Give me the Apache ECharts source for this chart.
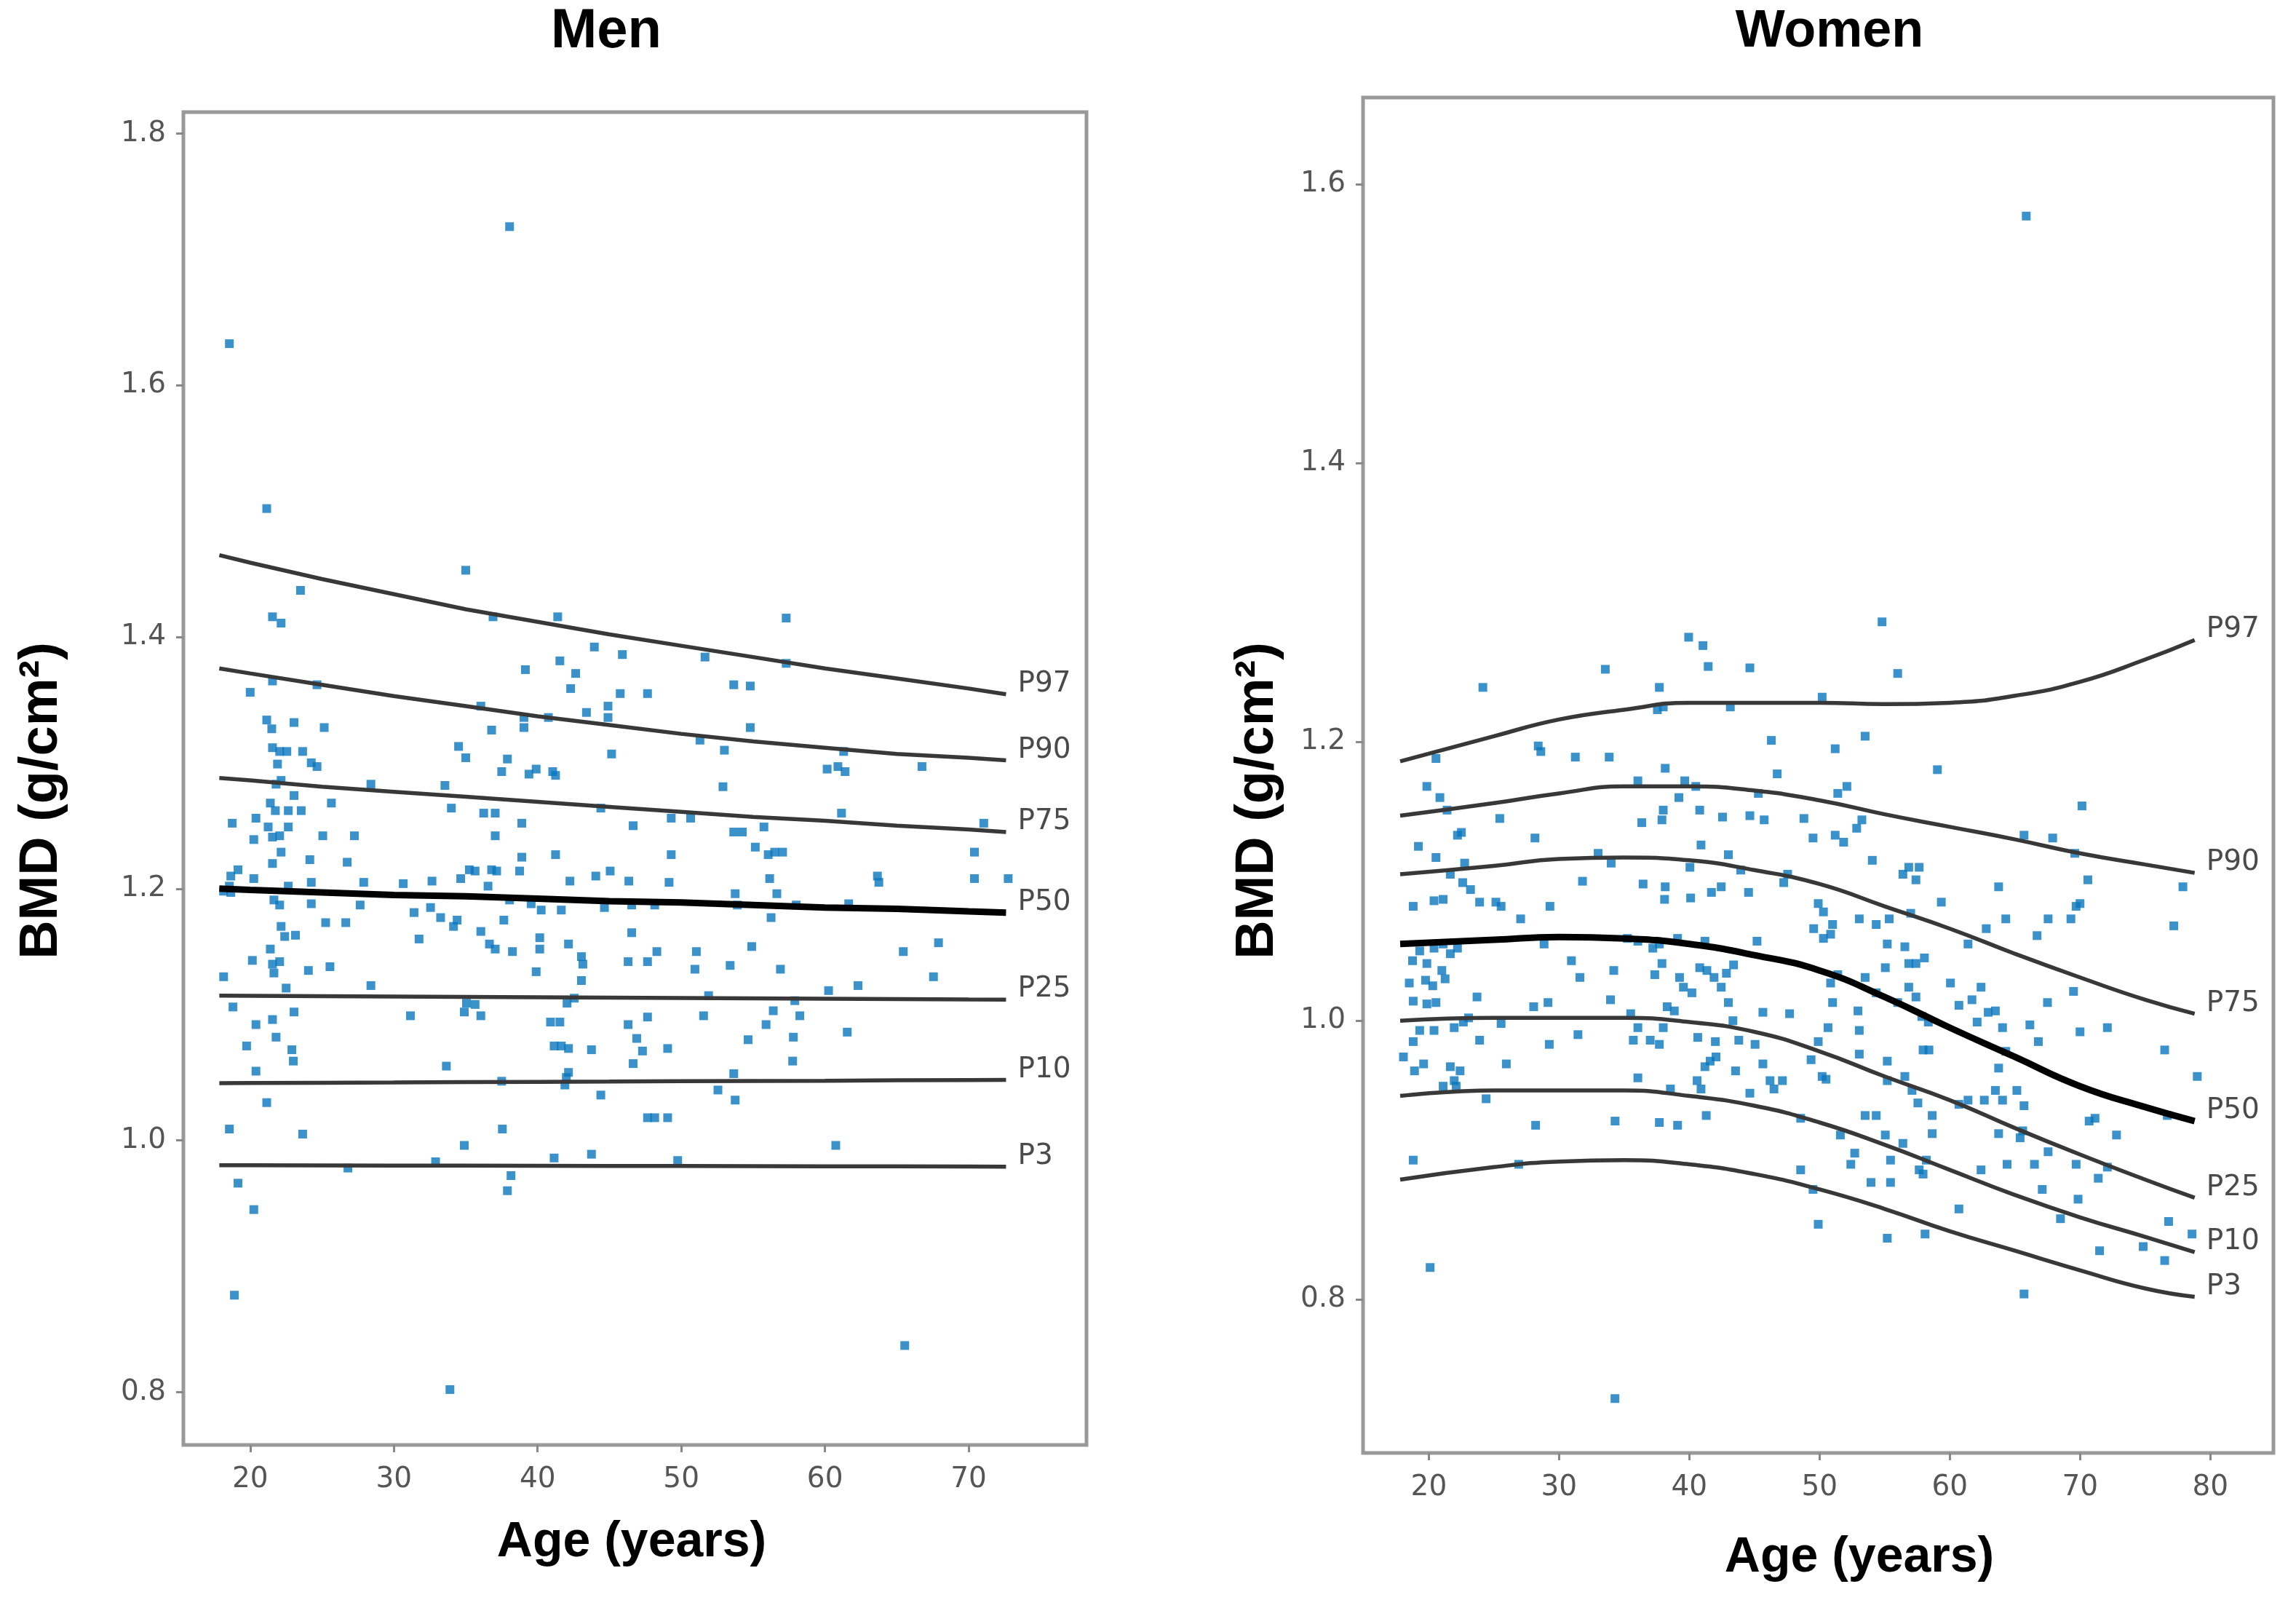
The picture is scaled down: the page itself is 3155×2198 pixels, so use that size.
<!DOCTYPE html>
<html>
<head>
<meta charset="utf-8">
<script src="https://cdn.jsdelivr.net/npm/echarts@6/dist/echarts.min.js"></script>
<style>html,body{margin:0;padding:0;background:#fff}#c{width:3155px;height:2198px}</style>
</head>
<body>
<div id="c"></div>
<script>
// ---------------- DATA ----------------
const panelTitles = ['Men', 'Women'];
const xTitle = 'Age (years)';
const yTitle = 'BMD (g/cm\u00b2)';
const percentileNames = ['P97', 'P90', 'P75', 'P50', 'P25', 'P10', 'P3'];

const menXTicks = [20, 30, 40, 50, 60, 70];
const menYTicks = [0.8, 1.0, 1.2, 1.4, 1.6, 1.8];
const womenXTicks = [20, 30, 40, 50, 60, 70, 80];
const womenYTicks = [0.8, 1.0, 1.2, 1.4, 1.6];

const menPoints = [
[18.55,1.633],[38.05,1.726],[21.15,1.502],[35.0,1.453],[33.9,0.802],[65.55,0.837],[18.9,0.877],[19.15,0.966],[20.25,0.945],[18.55,1.009],
[23.65,1.005],[21.15,1.030],[60.75,0.996],[34.9,0.996],[37.55,1.009],[37.5,1.047],[32.9,0.983],[26.8,0.978],[37.9,0.960],[38.15,0.972],
[41.15,0.986],[43.75,0.989],[49.75,0.984],[47.65,1.018],[48.15,1.018],[49.05,1.018],[44.4,1.036],[52.55,1.040],[53.75,1.032],[53.65,1.053],
[41.9,1.044],[42.15,1.054],[33.65,1.059],
[21.55,1.416],[22.15,1.411],[23.5,1.437],[20.0,1.356],[21.55,1.365],[24.65,1.362],[36.9,1.416],[41.4,1.416],[57.3,1.415],[57.3,1.379],
[39.15,1.374],[41.55,1.381],[43.95,1.392],[45.9,1.386],[51.65,1.384],[53.65,1.362],[54.8,1.361],[42.65,1.371],[42.3,1.359],[36.05,1.345],
[45.75,1.355],[47.65,1.355],[44.9,1.345],[43.4,1.340],[44.9,1.336],[40.75,1.336],[39.05,1.336],[39.05,1.328],[21.15,1.334],[21.5,1.327],
[23.05,1.332],[25.15,1.328],[36.8,1.326],[54.8,1.328],[34.5,1.313],[35.0,1.304],[51.3,1.318],[53.0,1.310],[45.15,1.307],[21.55,1.312],
[22.05,1.309],[22.55,1.309],[23.65,1.309],[21.9,1.299],[24.25,1.300],[24.65,1.297],[37.9,1.303],[37.5,1.293],[39.4,1.291],[39.9,1.295],
[41.05,1.293],[41.25,1.290],[60.15,1.295],[60.9,1.297],[61.4,1.293],[61.3,1.309],[66.75,1.297],[52.9,1.281],[33.55,1.282],[28.4,1.283],
[21.8,1.283],[22.15,1.286],[23.05,1.274],[21.4,1.268],[21.75,1.262],[22.65,1.262],[23.55,1.262],[25.65,1.268],[34.0,1.264],[36.25,1.260],
[37.05,1.260],[44.4,1.264],[61.15,1.260],[18.75,1.252],[20.4,1.256],[49.3,1.256],[50.65,1.256],[71.05,1.252],[46.65,1.250],[55.75,1.249],
[38.9,1.252],[21.25,1.249],[22.65,1.249],[21.55,1.241],[22.05,1.242],[20.25,1.239],[25.05,1.242],[27.25,1.242],[37.05,1.242],[53.65,1.245],
[54.25,1.245],[55.15,1.233],[22.15,1.229],[49.3,1.227],[56.05,1.227],[56.5,1.229],[57.05,1.229],[70.4,1.229],[41.25,1.227],[38.9,1.225],
[21.55,1.220],[24.15,1.223],[26.75,1.221],[19.15,1.215],[36.8,1.215],[35.25,1.215],[35.65,1.214],[37.15,1.214],[38.75,1.214],[45.05,1.214],
[63.65,1.210],[18.65,1.210],[20.25,1.208],[34.65,1.208],[56.15,1.208],[63.75,1.205],[70.4,1.208],[72.75,1.208],[42.25,1.206],[44.05,1.210],
[46.35,1.206],[49.15,1.205],[18.55,1.202],[22.65,1.202],[24.25,1.205],[27.9,1.205],[30.65,1.204],[32.65,1.206],[36.55,1.202],[18.15,1.198],
[18.65,1.197],[53.75,1.196],[56.65,1.196],[21.65,1.191],[22.05,1.187],[24.25,1.188],[27.65,1.187],[32.55,1.185],[38.05,1.191],[39.55,1.188],
[40.25,1.183],[41.65,1.183],[44.65,1.185],[46.55,1.187],[48.15,1.187],[53.9,1.187],[58.0,1.187],[61.65,1.188],[31.4,1.181],[33.25,1.177],
[56.25,1.177],[37.65,1.175],[34.4,1.175],[34.15,1.170],[22.15,1.170],[25.25,1.173],[26.65,1.173],[31.75,1.160],[23.15,1.163],[22.4,1.162],
[36.05,1.166],[40.15,1.161],[46.55,1.165],[67.9,1.157],[36.65,1.156],[37.05,1.152],[38.25,1.150],[40.15,1.152],[42.15,1.156],[54.9,1.154],
[21.4,1.152],[48.3,1.150],[51.05,1.150],[65.45,1.150],[43.05,1.146],[21.55,1.140],[22.05,1.142],[20.15,1.143],[43.15,1.140],[46.3,1.142],
[47.65,1.142],[53.4,1.139],[21.65,1.133],[24.05,1.135],[25.55,1.138],[39.9,1.134],[50.95,1.136],[56.9,1.136],[43.05,1.127],[67.55,1.130],
[18.15,1.130],[22.5,1.121],[28.4,1.123],[60.25,1.119],[62.3,1.123],[42.55,1.113],[42.05,1.109],[51.9,1.115],[18.8,1.106],[35.05,1.109],
[35.65,1.108],[57.9,1.111],[23.05,1.102],[31.15,1.099],[34.9,1.102],[36.05,1.099],[51.55,1.099],[56.4,1.103],[58.25,1.099],[20.4,1.092],
[21.55,1.096],[47.65,1.098],[40.9,1.094],[41.55,1.094],[46.3,1.092],[55.9,1.092],[61.55,1.086],[21.8,1.082],[46.9,1.081],[54.65,1.080],
[57.8,1.082],[41.15,1.075],[41.65,1.075],[42.15,1.073],[19.75,1.075],[22.9,1.072],[43.75,1.072],[47.3,1.071],[49.05,1.073],[23.0,1.063],
[46.65,1.061],[57.75,1.063],[20.4,1.055],[42.0,1.050]
];

const womenPoints = [
[65.87,1.577],[34.29,0.729],[20.1,0.823],[65.7,0.804],[18.8,0.900],
[39.95,1.275],[41.05,1.269],[41.45,1.254],[24.15,1.239],[33.55,1.252],[37.7,1.239],[38.0,1.225],[37.55,1.223],[43.15,1.225],[44.65,1.253],
[54.8,1.286],[56.0,1.249],[53.5,1.204],[46.3,1.201],[50.2,1.232],[51.2,1.195],[59.05,1.180],[28.4,1.197],[28.6,1.193],[31.25,1.189],
[33.85,1.189],[20.55,1.188],[19.85,1.168],[20.85,1.160],[21.4,1.151],[36.05,1.172],[38.15,1.181],[39.65,1.172],[40.5,1.168],[39.2,1.160],
[40.8,1.151],[25.45,1.145],[36.35,1.142],[38.0,1.151],[37.9,1.144],[42.55,1.146],[44.65,1.147],[45.3,1.163],[45.75,1.144],[46.75,1.177],
[48.8,1.145],[51.4,1.163],[52.1,1.168],[49.5,1.131],[51.2,1.133],[51.85,1.128],[52.85,1.138],[53.25,1.144],[70.15,1.154],[65.7,1.133],
[67.9,1.131],[69.6,1.120],[28.15,1.131],[22.2,1.133],[22.5,1.135],[19.2,1.125],[20.55,1.117],[40.9,1.126],[43.0,1.119],[33.0,1.120],
[34.0,1.113],[54.05,1.115],[56.4,1.105],[56.85,1.110],[57.65,1.110],[57.4,1.101],[70.6,1.101],[22.75,1.113],[21.65,1.105],[22.6,1.099],
[31.8,1.100],[36.45,1.098],[40.05,1.110],[40.1,1.088],[38.15,1.096],[38.1,1.087],[41.7,1.092],[42.45,1.096],[43.95,1.108],[44.55,1.092],
[47.55,1.105],[47.25,1.099],[63.75,1.096],[23.2,1.094],[18.8,1.082],[20.4,1.086],[21.1,1.087],[23.9,1.085],[25.15,1.085],[25.55,1.082],
[29.3,1.082],[49.9,1.084],[50.3,1.078],[51.0,1.069],[53.05,1.073],[54.35,1.069],[55.35,1.073],[59.35,1.085],[57.0,1.077],[64.3,1.073],
[67.55,1.073],[69.7,1.082],[70.0,1.084],[66.7,1.061],[69.3,1.073],[77.2,1.068],[77.9,1.096],[27.05,1.073],[28.85,1.055],[35.25,1.059],
[36.05,1.057],[37.2,1.052],[37.7,1.055],[39.1,1.059],[41.2,1.057],[45.2,1.057],[49.55,1.066],[50.3,1.059],[50.85,1.062],[61.4,1.055],
[62.8,1.066],[56.55,1.053],[55.2,1.055],[18.75,1.043],[18.5,1.027],[19.3,1.050],[19.85,1.041],[20.4,1.052],[21.1,1.055],[21.65,1.048],
[22.2,1.052],[21.0,1.036],[21.25,1.030],[19.75,1.029],[20.3,1.025],[20.55,1.013],[19.85,1.012],[18.8,1.014],[20.4,0.993],[19.3,0.993],
[18.8,0.985],[18.05,0.974],[18.9,0.964],[19.6,0.969],[21.1,0.953],[21.65,0.967],[21.95,0.957],[22.1,0.953],[22.4,0.964],[23.9,0.986],
[24.4,0.944],[21.95,0.995],[22.65,0.999],[23.05,1.002],[23.7,1.017],[25.55,0.998],[25.95,0.969],[28.05,1.010],[29.15,1.013],[29.25,0.983],
[31.45,0.990],[30.95,1.043],[31.6,1.031],[34.2,1.036],[33.95,1.015],[35.5,1.005],[36.05,0.995],[35.7,0.986],[37.0,0.986],[37.7,0.983],
[38.0,0.995],[38.3,1.010],[38.85,1.007],[39.55,1.024],[40.2,1.020],[39.25,1.031],[37.35,1.033],[37.9,1.041],[40.8,1.038],[41.35,1.036],
[41.9,1.031],[42.45,1.024],[42.85,1.034],[43.4,1.040],[43.0,1.013],[43.35,1.000],[43.8,0.986],[40.65,0.988],[42.0,0.985],[41.2,0.967],
[41.6,0.971],[42.05,0.974],[40.6,0.957],[40.9,0.951],[41.3,0.932],[43.55,0.964],[44.65,0.948],[45.65,0.969],[46.2,0.957],[46.5,0.951],
[47.15,0.957],[45.65,1.006],[47.7,1.005],[49.9,0.985],[50.2,0.960],[50.5,0.958],[49.35,0.972],[50.65,0.995],[51.0,1.013],[50.85,1.027],
[51.4,1.033],[52.95,1.007],[53.05,0.993],[53.05,0.976],[53.5,1.031],[54.35,1.020],[55.05,1.038],[55.2,0.957],[55.2,0.971],[56.0,1.013],
[56.85,1.041],[57.4,1.041],[58.05,1.045],[56.85,1.024],[57.4,1.017],[57.85,1.003],[58.35,0.999],[58.4,0.979],[57.95,0.979],[56.55,0.960],
[57.1,0.950],[57.55,0.941],[58.65,0.932],[60.05,1.027],[60.7,1.011],[61.7,1.015],[62.4,1.024],[62.1,0.999],[62.95,1.006],[63.5,1.007],
[64.05,0.995],[63.75,0.966],[63.5,0.950],[62.65,0.943],[64.3,0.978],[61.4,0.943],[60.7,0.940],[65.15,0.950],[65.7,0.939],[65.6,0.921],
[65.4,0.916],[64.4,0.897],[66.5,0.897],[66.8,0.985],[66.15,0.997],[67.5,1.013],[69.5,1.021],[70.0,0.992],[72.1,0.995],[70.7,0.928],
[71.15,0.930],[72.8,0.918],[72.1,0.895],[71.4,0.887],[69.7,0.897],[69.85,0.872],[68.5,0.858],[67.55,0.906],[67.1,0.879],[71.5,0.835],
[74.85,0.838],[76.5,0.828],[76.8,0.856],[76.7,0.932],[76.5,0.979],[79.0,0.960],[78.6,0.847],
[28.2,0.925],[26.9,0.897],[34.3,0.928],[37.7,0.927],[39.1,0.925],[38.55,0.951],[36.05,0.959],[48.55,0.930],[48.55,0.893],[49.5,0.879],
[49.9,0.854],[51.6,0.918],[52.4,0.897],[52.7,0.905],[53.5,0.932],[54.35,0.932],[53.95,0.884],[55.05,0.918],[55.2,0.844],[55.45,0.884],
[55.45,0.900],[56.4,0.912],[57.65,0.893],[57.95,0.890],[58.2,0.900],[58.65,0.919],[58.1,0.847],[60.7,0.865],[62.4,0.893],[63.75,0.919],
[64.05,0.943],[45.05,0.983]
];

const menCurveAge = [17.85, 20, 25, 30, 35, 40, 45, 50, 55, 60, 65, 70, 72.6];
const menP97 = [1.465, 1.459, 1.446, 1.434, 1.422, 1.412, 1.402, 1.393, 1.384, 1.375, 1.367, 1.359, 1.3545];
const menP90 = [1.375, 1.371, 1.362, 1.353, 1.345, 1.337, 1.330, 1.323, 1.317, 1.312, 1.307, 1.304, 1.302];
const menP75 = [1.288, 1.286, 1.281, 1.277, 1.273, 1.269, 1.265, 1.261, 1.257, 1.254, 1.250, 1.247, 1.245];
const menP50 = [1.200, 1.199, 1.197, 1.195, 1.194, 1.192, 1.190, 1.189, 1.187, 1.185, 1.184, 1.182, 1.181];
const menP25 = [1.1150, 1.1149, 1.1146, 1.1143, 1.1140, 1.1137, 1.1134, 1.1131, 1.1128, 1.1125, 1.1122, 1.1119, 1.1118];
const menP10 = [1.0455, 1.0456, 1.0458, 1.0460, 1.0463, 1.0465, 1.0467, 1.0470, 1.0472, 1.0474, 1.0477, 1.0479, 1.0480];
const menP3  = [0.9802, 0.9802, 0.9801, 0.9800, 0.9799, 0.9798, 0.9797, 0.9796, 0.9795, 0.9794, 0.9793, 0.9792, 0.9791];

const womenCurveAge = [17.8, 25, 30, 35, 40, 45, 50, 55, 60, 65, 70, 75, 78.8];
const womenP97 = [1.186, 1.204, 1.216, 1.223, 1.228, 1.228, 1.228, 1.227, 1.228, 1.233, 1.243, 1.259, 1.273];
const womenP90 = [1.147, 1.156, 1.163, 1.168, 1.168, 1.165, 1.158, 1.148, 1.139, 1.130, 1.120, 1.112, 1.106];
const womenP75 = [1.105, 1.111, 1.116, 1.117, 1.115, 1.108, 1.098, 1.082, 1.066, 1.048, 1.031, 1.015, 1.005];
const womenP50 = [1.055, 1.058, 1.060, 1.059, 1.055, 1.047, 1.036, 1.017, 0.995, 0.974, 0.953, 0.938, 0.928];
const womenP25 = [1.000, 1.002, 1.002, 1.002, 0.999, 0.992, 0.978, 0.960, 0.943, 0.923, 0.904, 0.886, 0.873];
const womenP10 = [0.946, 0.950, 0.950, 0.950, 0.946, 0.939, 0.927, 0.911, 0.893, 0.875, 0.859, 0.845, 0.834];
const womenP3  = [0.886, 0.895, 0.899, 0.900, 0.897, 0.890, 0.879, 0.865, 0.849, 0.835, 0.821, 0.808, 0.802];

// ---------------- CHART ----------------
const chart = echarts.init(document.getElementById('c'), null, {renderer: 'canvas'});
const pointColor = '#0a77bd';
const frameColor = '#999999';
const tickFont = 'DejaVu Sans';
const titleFont = 'Liberation Sans';

function zip(xs, ys) { return xs.map((x, i) => [x, ys[i]]); }

function curveSeries(name, ages, vals, idx) {
  const median = name === 'P50';
  return {
    type: 'line', name: name, xAxisIndex: idx, yAxisIndex: idx,
    data: zip(ages, vals), smooth: idx === 1 ? true : false,
    showSymbol: false, symbol: 'none', silent: true, z: 3,
    lineStyle: {color: median ? '#000' : '#383838', width: median ? 9 : 5.5},
    endLabel: {show: true, formatter: name, color: '#4a4a4a', fontSize: 39,
      fontFamily: tickFont, distance: 16, offset: [0, -14]}
  };
}

function xAxisCfg(idx, min, max, ticks) {
  return {
    gridIndex: idx, type: 'value', min: min, max: max,
    splitLine: {show: false}, axisLine: {show: false},
    axisTick: {show: true, customValues: ticks, length: 10, lineStyle: {color: '#888', width: 3}},
    axisLabel: {show: true, customValues: ticks, fontSize: 39, color: '#555', margin: 28, fontFamily: tickFont}
  };
}
function yAxisCfg(idx, min, max, ticks) {
  return {
    gridIndex: idx, type: 'value', min: min, max: max,
    splitLine: {show: false}, axisLine: {show: false},
    axisTick: {show: true, customValues: ticks, length: 10, lineStyle: {color: '#888', width: 3}},
    axisLabel: {show: true, customValues: ticks, fontSize: 39, color: '#555', margin: 24, fontFamily: tickFont,
      formatter: v => Number(v).toFixed(1)}
  };
}

const menCurves = [menP97, menP90, menP75, menP50, menP25, menP10, menP3];
const womenCurves = [womenP97, womenP90, womenP75, womenP50, womenP25, womenP10, womenP3];

const series = [
  {type: 'scatter', xAxisIndex: 0, yAxisIndex: 0, data: menPoints, symbol: 'rect', symbolSize: 12,
   itemStyle: {color: pointColor}, z: 2, silent: true},
  {type: 'scatter', xAxisIndex: 1, yAxisIndex: 1, data: womenPoints, symbol: 'rect', symbolSize: 12,
   itemStyle: {color: pointColor}, z: 2, silent: true}
];
percentileNames.forEach((n, i) => {
  series.push(curveSeries(n, menCurveAge, menCurves[i], 0));
  series.push(curveSeries(n, womenCurveAge, womenCurves[i], 1));
});

function txt(text, x, y, size, rot) {
  return {type: 'text', x: x, y: y, rotation: rot || 0, z: 10,
    style: {text: text, fill: '#000', font: 'bold ' + size + 'px "' + titleFont + '"',
      textAlign: 'center', textVerticalAlign: 'middle'}};
}

chart.setOption({
  animation: false,
  backgroundColor: '#fff',
  grid: [
    {left: 252, top: 154, width: 1241, height: 1831, show: true, borderColor: frameColor, borderWidth: 5, backgroundColor: 'transparent'},
    {left: 1873, top: 134, width: 1251, height: 1862, show: true, borderColor: frameColor, borderWidth: 5, backgroundColor: 'transparent'}
  ],
  xAxis: [xAxisCfg(0, 15.35, 78.2, menXTicks), xAxisCfg(1, 14.95, 84.85, womenXTicks)],
  yAxis: [yAxisCfg(0, 0.758, 1.817, menYTicks), yAxisCfg(1, 0.690, 1.662, womenYTicks)],
  series: series,
  graphic: [
    txt(panelTitles[0], 833, 44, 76),
    txt(panelTitles[1], 2514, 44, 72),
    txt(xTitle, 868, 2119, 68),
    txt(xTitle, 2555, 2140, 68),
    txt(yTitle, 58, 1100, 74, Math.PI / 2),
    txt(yTitle, 1729, 1100, 74, Math.PI / 2)
  ]
});
</script>
</body>
</html>
